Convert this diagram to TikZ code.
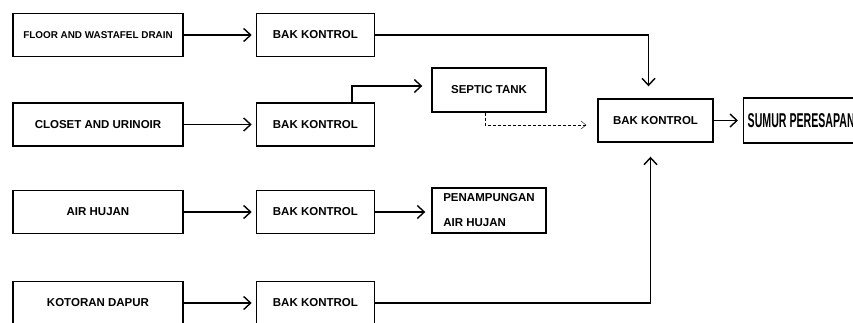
\documentclass[tikz,border=0pt]{standalone}
\usepackage{fontspec}
\setmainfont{Liberation Sans}
\usepackage{graphicx}
\usetikzlibrary{positioning,arrows.meta}

\begin{document}
\begin{tikzpicture}[x=1pt, y=-1pt,
  box/.style={draw, line width=1.4pt, minimum width=170pt, minimum height=43pt,
              inner sep=0pt, align=center, font=\fontsize{11.5}{13}\selectfont\bfseries},
  bak/.style={box, minimum width=118pt},
  arr/.style={-{Straight Barb[length=7pt,width=13pt]}, line width=1.4pt},
  dotarr/.style={-{Straight Barb[length=5pt,width=8pt]}, thin, densely dashed}]
\useasboundingbox (0,0) rectangle (853,322);
\clip (0,0) rectangle (853,322);
% sources
\node[box, font=\fontsize{9.9}{12}\selectfont\bfseries] (floor) at (98,35) {FLOOR AND WASTAFEL DRAIN};
\node[box] (closet) at (98,124.5) {CLOSET AND URINOIR};
\node[box] (hujan) at (98,212) {AIR HUJAN};
\node[box] (dapur) at (98,303) {KOTORAN DAPUR};
% bak kontrol column
\node[bak, right=72pt of floor] (bak1) {BAK KONTROL};
\node[bak, right=72pt of closet] (bak2) {BAK KONTROL};
\node[bak, right=72pt of hujan] (bak3) {BAK KONTROL};
\node[bak, right=72pt of dapur] (bak4) {BAK KONTROL};
% treatment / storage
\node[bak, minimum width=114pt, minimum height=44pt] (septic) at (489,90) {SEPTIC TANK};
\node[bak, minimum width=114pt, minimum height=45pt, align=left,
      font=\fontsize{11.5}{25}\selectfont\bfseries] (tampung) at (489,210.5) {PENAMPUNGAN\\AIR HUJAN};
\node[bak, minimum width=115pt] (bakc) at (655.5,120.5) {BAK KONTROL};
\node[box, anchor=west, minimum width=0pt, minimum height=45pt, inner xsep=4pt] (sumur) at (743,120.5)
  {\scalebox{0.53}[1]{\fontsize{20}{22}\selectfont SUMUR PERESAPAN}};
% connections
\draw[arr, shorten >=4pt] (floor) -- (bak1);
\draw[arr, shorten >=4pt] (closet) -- (bak2);
\draw[arr, shorten >=4pt] (hujan) -- (bak3);
\draw[arr, shorten >=4pt] (dapur) -- (bak4);
\draw[arr, shorten >=12pt] (bak1.east) -| ([xshift=-7pt]bakc.north);
\draw[arr, shorten >=9pt] ([xshift=-23pt]bak2.north east) |- ([yshift=4pt]septic.west);
\draw[dotarr, shorten >=11pt] ([xshift=-4pt]septic.south) |- ([yshift=-4.5pt]bakc.west);
\draw[arr, shorten >=6pt] (bak3.east) -- (bak3.east -| tampung.west);
\draw[arr, shorten >=14pt] (bak4.east) -| ([xshift=-5pt]bakc.south);
\draw[arr, shorten >=5pt] (bakc) -- (sumur);
\end{tikzpicture}
\end{document}
